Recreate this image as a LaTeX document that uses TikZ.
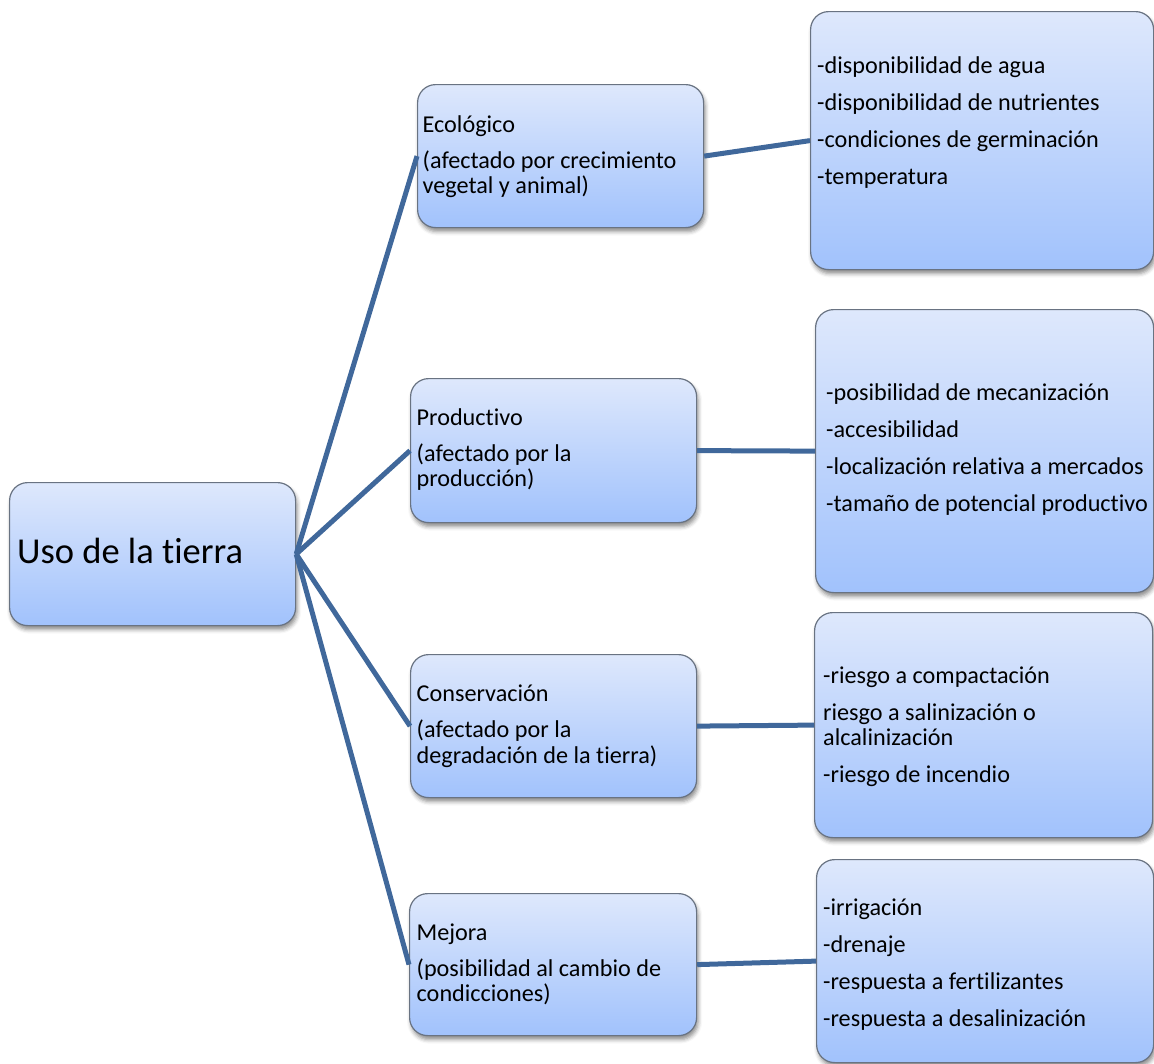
\documentclass[tikz,border=0pt]{standalone}
\usepackage{fontspec}
\setmainfont{Carlito}[Ligatures={NoCommon}]
\usetikzlibrary{shadows.blur}
\definecolor{linec}{RGB}{64,104,155}
\definecolor{topc}{RGB}{222,232,252}
\definecolor{botc}{RGB}{161,194,252}
\definecolor{edgec}{RGB}{105,115,130}
\tikzset{
  box/.style={rounded corners=18pt, draw=edgec, line width=1.2pt,
    top color=topc, bottom color=botc, inner sep=0pt, anchor=north west,
    blur shadow={shadow xshift=1.5pt, shadow yshift=-4pt, shadow blur radius=4pt, shadow opacity=45}},
  link/.style={draw=linec, line width=5pt},
  txt/.style={anchor=base west, inner sep=0pt, align=left,
    font=\fontsize{24.2}{25.5}\selectfont},
}
\begin{document}
\begin{tikzpicture}[x=1pt,y=-1pt]
\useasboundingbox (0,0) rectangle (1154,1063);
% boxes
\node[box, minimum width=286pt, minimum height=143pt] (root) at (9,482) {};
\node[box, minimum width=286pt, minimum height=143pt] (eco) at (417,84) {};
\node[box, minimum width=286pt, minimum height=144pt] (prod) at (410,378) {};
\node[box, minimum width=286pt, minimum height=143pt] (cons) at (410,654) {};
\node[box, minimum width=287pt, minimum height=142pt] (mej) at (409,893) {};
\node[box, minimum width=343pt, minimum height=258pt] (r1) at (810,11) {};
\node[box, minimum width=338pt, minimum height=283pt] (r2) at (815,309) {};
\node[box, minimum width=338pt, minimum height=225pt] (r3) at (814,612) {};
\node[box, minimum width=337pt, minimum height=203pt] (r4) at (816,859) {};
% connectors
\draw[link] (root.east) -- (eco.west);
\draw[link] (root.east) -- (prod.west);
\draw[link] (root.east) -- (cons.west);
\draw[link] (root.east) -- (mej.west);
\draw[link] (eco.east) -- (r1.west);
\draw[link] (prod.east) -- (r2.west);
\draw[link] (cons.east) -- (r3.west);
\draw[link] (mej.east) -- (r4.west);
% texts (anchored at the baseline of their last line)
\node[txt, font=\fontsize{36.5}{40}\selectfont] (troot) at (17,563) {Uso de la tierra};
\node[txt] (teco) at (422.5,193.5) {Ecológico\\[10.5pt](afectado por crecimiento\\vegetal y animal)};
\node[txt] (tprod) at (416.5,486.5) {Productivo\\[10.5pt](afectado por la\\producción)};
\node[txt] (tcons) at (416.5,763) {Conservación\\[10.5pt](afectado por la\\degradación de la tierra)};
\node[txt] (tmej) at (416.5,1001.5) {Mejora\\[10.5pt](posibilidad al cambio de\\condicciones)};
\node[txt] (tr1) at (817,184) {-disponibilidad de agua\\[11.5pt]-disponibilidad de nutrientes\\[11.5pt]-condiciones de germinación\\[11.5pt]-temperatura};
\node[txt] (tr2) at (826,511) {-posibilidad de mecanización\\[11.5pt]-accesibilidad\\[11.5pt]-localización relativa a mercados\\[11.5pt]-tamaño de potencial productivo};
\node[txt] (tr3) at (823,782) {-riesgo a compactación\\[11.5pt]riesgo a salinización o\\alcalinización\\[11pt]-riesgo de incendio};
\node[txt] (tr4) at (823,1026) {-irrigación\\[11.5pt]-drenaje\\[11.5pt]-respuesta a fertilizantes\\[11.5pt]-respuesta a desalinización};
\end{tikzpicture}
\end{document}
